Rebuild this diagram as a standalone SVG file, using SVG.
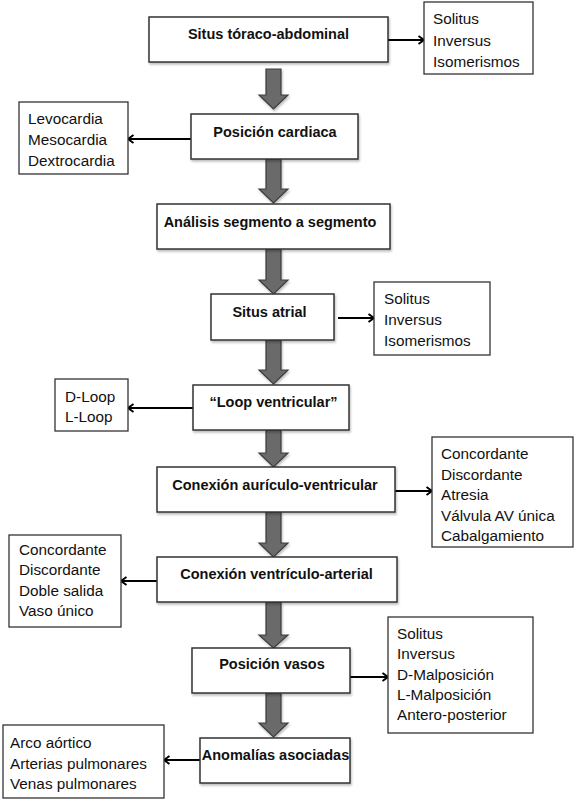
<svg xmlns="http://www.w3.org/2000/svg" width="579" height="801" viewBox="0 0 579 801">
<style>
.box{fill:#fff;stroke:#333;stroke-width:1.5;filter:url(#sh)}
.side{fill:#fff;stroke:#333;stroke-width:1.3}
.t{font-family:"Liberation Sans",Arial,sans-serif;font-weight:bold;font-size:14.5px;fill:#111;text-anchor:middle}
.s{font-family:"Liberation Sans",Arial,sans-serif;font-size:15.3px;fill:#111}
.blk{fill:#6a6a6a;stroke:#3c3c3c;stroke-width:1.2;filter:url(#sh)}
.ln{stroke:#000;stroke-width:2;fill:none;marker-end:url(#ah)}
</style>
<defs>
<filter id="sh" x="-10%" y="-10%" width="130%" height="140%">
<feDropShadow dx="1" dy="2" stdDeviation="1.2" flood-color="#000" flood-opacity="0.25"/>
</filter>
<marker id="ah" markerWidth="10" markerHeight="10" refX="8" refY="5" orient="auto" markerUnits="userSpaceOnUse">
<path d="M2.5,1 L8,5 L2.5,9" fill="none" stroke="#000" stroke-width="2"/>
</marker>
</defs>
<rect width="579" height="801" fill="#fff"/>

<g id="connectors">
<path class="blk" d="M266,69 L281,69 L281,95 L288,95 L273.5,109 L259,95 L266,95 Z"/>
<path class="blk" d="M266,159 L281,159 L281,189 L288,189 L273.5,203 L259,189 L266,189 Z"/>
<path class="blk" d="M266,249 L281,249 L281,280 L288,280 L273.5,294 L259,280 L266,280 Z"/>
<path class="blk" d="M266,340 L281,340 L281,370 L288,370 L273.5,384 L259,370 L266,370 Z"/>
<path class="blk" d="M266,430 L281,430 L281,453 L288,453 L273.5,467 L259,453 L266,453 Z"/>
<path class="blk" d="M266,512 L281,512 L281,543 L288,543 L273.5,557 L259,543 L266,543 Z"/>
<path class="blk" d="M266,602 L281,602 L281,635 L288,635 L273.5,648 L259,635 L266,635 Z"/>
<path class="blk" d="M266,693 L281,693 L281,723 L288,723 L273.5,737 L259,723 L266,723 Z"/>
<line class="ln" x1="388" y1="40" x2="424" y2="40"/>
<line class="ln" x1="191" y1="139" x2="128" y2="139"/>
<line class="ln" x1="338" y1="318" x2="374" y2="318"/>
<line class="ln" x1="193" y1="408" x2="128" y2="408"/>
<line class="ln" x1="395" y1="491" x2="432" y2="491"/>
<line class="ln" x1="157" y1="581" x2="121" y2="581"/>
<line class="ln" x1="350" y1="677" x2="388" y2="677"/>
<line class="ln" x1="200" y1="760" x2="164" y2="760"/>
</g>

<g id="n1"><rect class="box" x="149" y="17" width="239" height="45"/><text class="t" x="268.5" y="39">Situs tóraco-abdominal</text></g>
<g id="s1"><rect class="side" x="424" y="2" width="109" height="72"/>
<text class="s" x="433" y="24">Solitus</text><text class="s" x="433" y="45.5">Inversus</text><text class="s" x="433" y="66.5">Isomerismos</text></g>

<g id="n2"><rect class="box" x="191" y="114" width="167" height="45"/><text class="t" x="275" y="137">Posición cardiaca</text></g>
<g id="s2"><rect class="side" x="19" y="102" width="109" height="72"/>
<text class="s" x="28" y="124">Levocardia</text><text class="s" x="28" y="145">Mesocardia</text><text class="s" x="28" y="165.5">Dextrocardia</text></g>

<g id="n3"><rect class="box" x="157" y="204" width="233" height="45"/><text class="t" x="270" y="227">Análisis segmento a segmento</text></g>

<g id="n4"><rect class="box" x="211" y="294" width="123" height="46"/><text class="t" x="269.5" y="317">Situs atrial</text></g>
<g id="s4"><rect class="side" x="374" y="282" width="116" height="73"/>
<text class="s" x="384" y="304">Solitus</text><text class="s" x="384" y="325">Inversus</text><text class="s" x="384" y="345.5">Isomerismos</text></g>

<g id="n5"><rect class="box" x="193" y="385" width="156" height="45"/><text class="t" x="273.5" y="407">“Loop ventricular”</text></g>
<g id="s5"><rect class="side" x="55" y="379" width="73" height="52"/>
<text class="s" x="65" y="402">D-Loop</text><text class="s" x="65" y="422">L-Loop</text></g>

<g id="n6"><rect class="box" x="157" y="467" width="238" height="45"/><text class="t" x="275" y="490">Conexión aurículo-ventricular</text></g>
<g id="s6"><rect class="side" x="432" y="437" width="141" height="110"/>
<text class="s" x="441" y="459">Concordante</text><text class="s" x="441" y="479.5">Discordante</text><text class="s" x="441" y="500">Atresia</text><text class="s" x="441" y="520.5">Válvula AV única</text><text class="s" x="441" y="540.5">Cabalgamiento</text></g>

<g id="n7"><rect class="box" x="157" y="557" width="240" height="45"/><text class="t" x="276.5" y="579">Conexión ventrículo-arterial</text></g>
<g id="s7"><rect class="side" x="9" y="535" width="112" height="92"/>
<text class="s" x="19" y="555">Concordante</text><text class="s" x="19" y="575">Discordante</text><text class="s" x="19" y="596">Doble salida</text><text class="s" x="19" y="615.5">Vaso único</text></g>

<g id="n8"><rect class="box" x="192" y="648" width="158" height="45"/><text class="t" x="272" y="669">Posición vasos</text></g>
<g id="s8"><rect class="side" x="388" y="617" width="145" height="116"/>
<text class="s" x="397" y="639">Solitus</text><text class="s" x="397" y="659">Inversus</text><text class="s" x="397" y="680">D-Malposición</text><text class="s" x="397" y="700">L-Malposición</text><text class="s" x="397" y="720">Antero-posterior</text></g>

<g id="n9"><rect class="box" x="200" y="738" width="150" height="45"/><text class="t" x="275.5" y="760">Anomalías asociadas</text></g>
<g id="s9"><rect class="side" x="3" y="725" width="161" height="73"/>
<text class="s" x="10" y="748">Arco aórtico</text><text class="s" x="10" y="768.5">Arterias pulmonares</text><text class="s" x="10" y="789">Venas pulmonares</text></g>
</svg>
